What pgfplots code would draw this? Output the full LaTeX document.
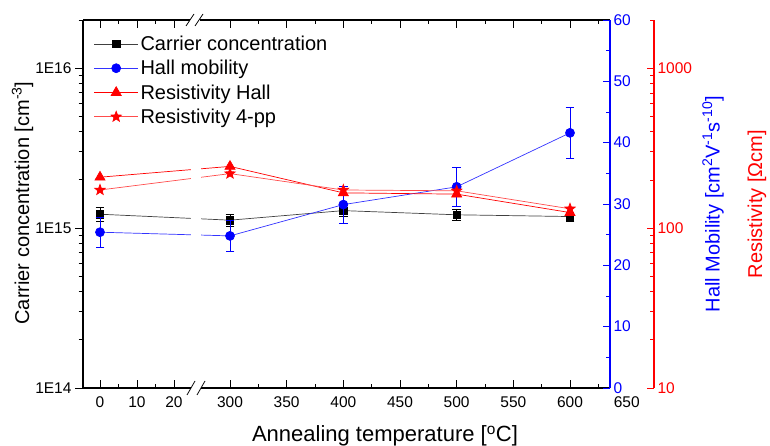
\documentclass[border=0pt]{standalone}
\usepackage{fontspec}
\setmainfont{Liberation Sans}
\usepackage{pgfplots}
\pgfplotsset{compat=1.18}
\usepackage{pgfplotstable}

% filled five-pointed star
\pgfdeclareplotmark{fstar}{%
  \pgfpathmoveto{\pgfqpointpolar{90}{\pgfplotmarksize}}%
  \pgfpathlineto{\pgfqpointpolar{126}{0.42\pgfplotmarksize}}%
  \pgfpathlineto{\pgfqpointpolar{162}{\pgfplotmarksize}}%
  \pgfpathlineto{\pgfqpointpolar{198}{0.42\pgfplotmarksize}}%
  \pgfpathlineto{\pgfqpointpolar{234}{\pgfplotmarksize}}%
  \pgfpathlineto{\pgfqpointpolar{270}{0.42\pgfplotmarksize}}%
  \pgfpathlineto{\pgfqpointpolar{306}{\pgfplotmarksize}}%
  \pgfpathlineto{\pgfqpointpolar{342}{0.42\pgfplotmarksize}}%
  \pgfpathlineto{\pgfqpointpolar{18}{\pgfplotmarksize}}%
  \pgfpathlineto{\pgfqpointpolar{54}{0.42\pgfplotmarksize}}%
  \pgfpathclose
  \pgfusepathqfillstroke}

% broken temperature axis: 0-25 C stretched, 275-635 C compressed (1 unit = 1pt)
\newcommand{\brokenx}{ifthenelse(\thisrow{T}<100,17+3.7*\thisrow{T},147+1.13333*(\thisrow{T}-300))}

\pgfplotstableread{
T    n        nerr
0    1.22e15  0.12e15
300  1.12e15  0.10e15
400  1.285e15 0.10e15
500  1.21e15  0.10e15
600  1.18e15  0.08e15
}\carrier

\pgfplotstableread{
T    mu    muerr
0    25.4  2.5
300  24.8  2.5
400  29.9  3.0
500  32.8  3.2
600  41.6  4.2
}\mobility

\pgfplotstableread{
T    hall  fourpp
0    208   173
300  243   219
400  166   173
500  163   171
600  125   132
}\resist

\newcommand{\lblfont}{\fontsize{20}{24}\selectfont}
\newcommand{\tckfont}{\fontsize{15.5}{18}\selectfont}

\begin{document}
\begin{tikzpicture}
\useasboundingbox (-83pt,-58pt) rectangle (687pt,388pt);

% carrier concentration, left log axis
\begin{axis}[
  at={(0pt,0pt)}, anchor=south west,
  scale only axis, width=527pt, height=368pt,
  xmin=0, xmax=527,
  ymode=log, ymin=1e14, ymax=2e16,
  axis y line*=left,
  axis line style={line width=1.2pt},
  xtick={17,54,91,147,203.667,260.333,317,373.667,430.333,487},
  xticklabels={0,10,20,300,350,400,450,500,550,600},
  minor xtick={35.5,72.5,175.333,232,288.667,345.333,402,458.667,515.333},
  xticklabel pos=lower,
  xticklabel style={yshift=-5pt},
  ytick={1e14,1e15,1e16}, yticklabels={1E14,1E15,1E16},
  minor ytick={2e14,3e14,4e14,5e14,6e14,7e14,8e14,9e14,2e15,3e15,4e15,5e15,6e15,7e15,8e15,9e15,2e16},
  xtick align=inside, ytick align=outside,
  major tick length=8pt, minor tick length=4.5pt,
  tick style={black, line width=0.8pt},
  tick label style={font=\tckfont},
  legend style={at={(0.0145,0.968)}, anchor=north west, draw=none, fill=none,
    font=\lblfont, row sep=4.3pt, legend cell align=left},
  legend image code/.code={%
    \draw[mark repeat=2,mark phase=2,#1] plot coordinates {(0pt,0pt) (22pt,0pt) (44pt,0pt)};},
]
\addplot[black!75, line width=0.7pt, mark=square*, mark size=3.7pt,
  mark options={solid, fill=black, draw=black},
  error bars/.cd, y dir=both, y explicit,
  error bar style={black, line width=0.7pt},
  error mark options={rotate=90, black, mark size=4.3pt, line width=0.7pt}]
  table[x expr=\brokenx, y=n, y error=nerr]{\carrier};
\addlegendimage{blue!80, line width=0.7pt, mark=*, mark size=4.5pt, mark options={fill=blue, draw=blue}}
\addlegendimage{red, line width=0.7pt, mark=triangle*, mark size=5.8pt, mark options={fill=red, draw=red}}
\addlegendimage{red!70, line width=0.7pt, mark=fstar, mark size=5.5pt, mark options={fill=red, draw=red}}
\legend{Carrier concentration, Hall mobility, Resistivity Hall, Resistivity 4-pp}
\end{axis}

% Hall mobility, blue linear axis
\begin{axis}[
  at={(0pt,0pt)}, anchor=south west,
  scale only axis, width=527pt, height=368pt,
  xmin=0, xmax=527, ymin=0, ymax=60,
  axis x line=none, axis y line*=right,
  axis line style={blue, line width=1.3pt},
  ytick={0,10,20,30,40,50,60}, yticklabels={0,10,20,30,40,50,60},
  minor ytick={5,15,25,35,45,55},
  tick align=inside,
  major tick length=7pt, minor tick length=4pt,
  tick style={blue, line width=0.8pt},
  yticklabel style={blue, font=\tckfont},
]
\addplot[blue!80, line width=0.7pt, mark=*, mark size=4.5pt,
  mark options={solid, fill=blue, draw=blue},
  error bars/.cd, y dir=both, y explicit,
  error bar style={blue, line width=0.7pt},
  error mark options={rotate=90, blue, mark size=4.3pt, line width=0.7pt}]
  table[x expr=\brokenx, y=mu, y error=muerr]{\mobility};
\end{axis}

% resistivity, red log axis further right
\begin{axis}[
  at={(0pt,0pt)}, anchor=south west,
  scale only axis, width=571pt, height=368pt,
  xmin=0, xmax=571,
  ymode=log, ymin=10, ymax=2000,
  axis x line=none, axis y line*=right,
  axis line style={red, line width=1.3pt},
  ytick={10,100,1000}, yticklabels={10,100,1000},
  minor ytick={20,30,40,50,60,70,80,90,200,300,400,500,600,700,800,900,2000},
  tick align=inside,
  major tick length=7.5pt, minor tick length=4pt,
  tick style={red, line width=0.8pt},
  yticklabel style={red, font=\tckfont},
]
\addplot[red, line width=0.7pt, mark=triangle*, mark size=5.8pt,
  mark options={solid, fill=red, draw=red}]
  table[x expr=\brokenx, y=hall]{\resist};
\addplot[red!70, line width=0.7pt, mark=fstar, mark size=5.5pt,
  mark options={solid, fill=red, draw=red}]
  table[x expr=\brokenx, y=fourpp]{\resist};
\end{axis}

% axis break: gap in the axis lines and in the connecting lines, with slashes
\fill[white] (108pt,-2pt) rectangle (118pt,2pt);
\fill[white] (107pt,366pt) rectangle (117pt,370pt);
\fill[white] (108pt,140pt) rectangle (118pt,240pt);
\draw[line width=0.8pt] (104pt,-7pt) -- (112pt,7pt) (114pt,-7pt) -- (122pt,7pt);
\draw[line width=0.8pt] (103pt,362pt) -- (111pt,374pt) (112pt,362pt) -- (120pt,374pt);

% labels
\node[font=\tckfont, anchor=base] at (543.7pt,-20pt) {650};
\node[font=\fontsize{22}{26}\selectfont, anchor=base] at (302pt,-54pt) {Annealing temperature [\textsuperscript{o}C]};
\node[font=\lblfont, rotate=90] at (-60.5pt,185pt) {Carrier concentration [cm\textsuperscript{-3}]};
\node[font=\lblfont, rotate=90, blue] at (630pt,184pt) {Hall Mobility [cm\textsuperscript{2}V\textsuperscript{-1}s\textsuperscript{-10}]};
\node[font=\lblfont, rotate=90, red] at (674pt,184pt) {Resistivity [Ωcm]};
\end{tikzpicture}
\end{document}
